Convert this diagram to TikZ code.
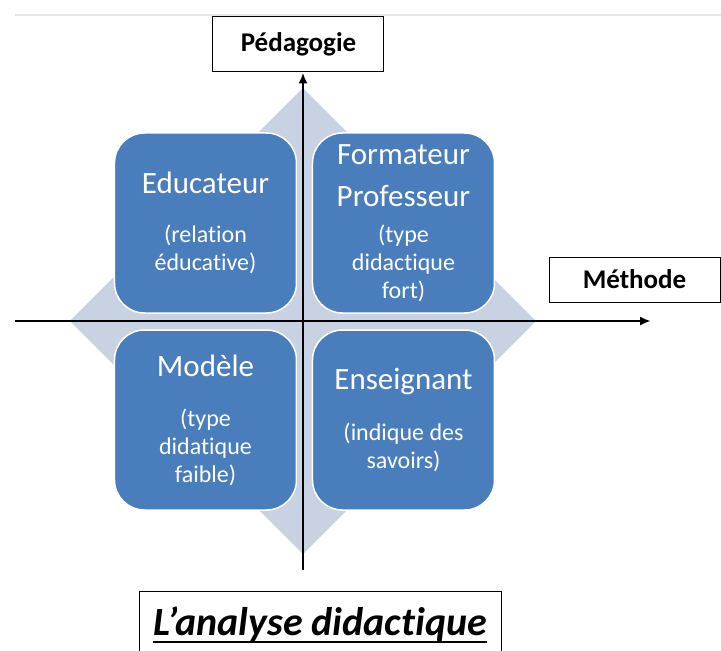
\documentclass[tikz,border=0pt]{standalone}
\usepackage{fontspec}
\setmainfont{Carlito}[Ligatures=NoCommon]
\usetikzlibrary{arrows.meta}

\definecolor{boxblue}{RGB}{74,125,187}
\definecolor{diamondgray}{RGB}{200,210,226}

\begin{document}
\begin{tikzpicture}[
                x=1pt, y=1pt,
                role/.style={draw=white, line width=1.5pt, fill=boxblue, text=white,
                    rounded corners=30pt, minimum width=182pt, minimum height=180pt,
                    align=center, font=\fontsize{24}{28}\selectfont},
                axislabel/.style={draw, line width=1pt, fill=white, minimum width=171pt,
                    font=\bfseries\fontsize{27}{30}\selectfont},
                axis/.style={line width=2.5pt, -{Latex[length=11pt,width=9pt]}}
            ]
                \def\dg{233}
                \def\rolemain#1{{\fontsize{31}{28}\selectfont #1}}
                \useasboundingbox (-303,-330) rectangle (418,321);
                \begin{scope}
                    \clip (-303,-330) rectangle (418,321);
                    \draw[black!10, line width=2pt] (-288,306) -- (418,306);
                    \fill[diamondgray] (0,\dg) -- (\dg,0) -- (0,-\dg) -- (-\dg,0) -- cycle;
                    \node[role] (educ) at (-97.5,98) {\rolemain{Educateur}\\[21pt](relation\\éducative)};
                    \node[role] (form) at (100.5,98) {\rolemain{Formateur}\\[14pt]\rolemain{Professeur}\\[8pt](type\\didactique\\fort)};
                    \node[role] (mod) at (-97.5,-99) {\rolemain{Modèle}\\[22pt](type\\didatique\\faible)};
                    \node[role] (ens) at (100.5,-99) {\rolemain{Enseignant}\\[23pt](indique des\\savoirs)};
                    \node[axislabel, minimum height=55pt] (peda) at (-4.5,276.5) {Pédagogie};
                    \node[axislabel, minimum height=45pt] (meth) at (331.5,41.5) {Méthode};
                    \coordinate (ouest) at (-288,0);
                    \coordinate (est) at (348,0);
                    \coordinate (sud) at (0,-249);
                    \draw[axis] (ouest) -- (est);
                    \draw[axis] (sud) -- (sud |- peda.south);
                    \draw[line width=1pt] (-163,-345) rectangle (198,-270);
                    \node[font=\bfseries\itshape\fontsize{40}{44}\selectfont, inner sep=0pt, anchor=base] (titre) at (17,-314) {L’analyse didactique};
                    \draw[line width=2pt] ([yshift=-7pt]titre.base west) -- ([yshift=-7pt]titre.base east);
                \end{scope}
            \end{tikzpicture}
\end{document}
